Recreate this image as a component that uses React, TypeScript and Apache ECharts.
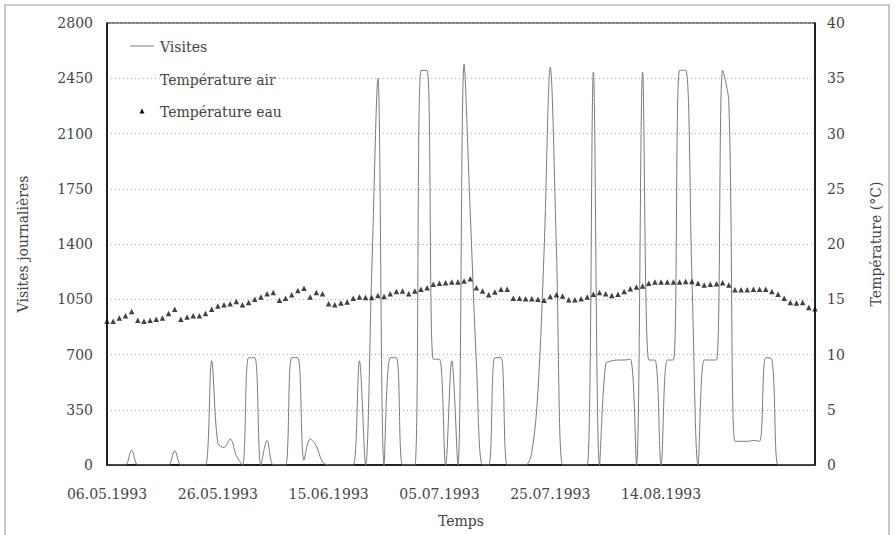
import React, { useEffect, useRef } from "react";
import * as echarts from "echarts";

// Category axis: one entry per observation (labels shown every 18 entries = 20 days)
const startDate = new Date(1993, 4, 6);
const pointCount = 116;
const labelEvery = 18;
const lastLabelIndex = 90;

const pad = (n: number) => (n < 10 ? "0" + n : "" + n);
const categories: string[] = Array.from({ length: pointCount }, (_, i) => {
  const d = new Date(startDate.getTime());
  d.setDate(d.getDate() + Math.round((i * 20) / labelEvery));
  return pad(d.getDate()) + "." + pad(d.getMonth() + 1) + "." + d.getFullYear();
});

// Visites journalières (left axis)
const visites: number[] = [
  0, 0, 0, 0, 95, 0, 0, 0, 0, 0,
  0, 90, 0, 0, 0, 0, 0, 660, 140, 110,
  165, 60, 0, 680, 680, 0, 155, 0, 0, 0,
  680, 680, 30, 165, 120, 20, 0, 0, 0, 0,
  0, 660, 0, 1220, 2450, 0, 680, 680, 0, 0,
  0, 2500, 2500, 670, 670, 0, 660, 0, 2540, 1600,
  650, 0, 0, 680, 680, 0, 0, 0, 0, 80,
  470, 1360, 2520, 1370, 0, 0, 0, 0, 0, 2490,
  0, 640, 660, 665, 665, 670, 0, 2490, 665, 665,
  0, 665, 665, 2500, 2500, 1200, 0, 665, 665, 665,
  2500, 2300, 150, 150, 150, 155, 150, 680, 670, 0,
  0, 0, 0, 0, 0, 0,
];

// Température eau (right axis, °C)
const tempEau: number[] = [
  13.0, 13.0, 13.3, 13.5, 13.9, 13.1, 13.0, 13.1, 13.2, 13.3,
  13.7, 14.1, 13.2, 13.4, 13.5, 13.5, 13.7, 14.1, 14.4, 14.5,
  14.6, 14.8, 14.5, 14.7, 15.0, 15.2, 15.5, 15.6, 14.9, 15.1,
  15.4, 15.8, 16.0, 15.2, 15.6, 15.5, 14.6, 14.5, 14.65, 14.75,
  15.1, 15.2, 15.15, 15.15, 15.35, 15.25, 15.5, 15.7, 15.75, 15.5,
  15.75, 15.9, 16.05, 16.35, 16.45, 16.5, 16.55, 16.55, 16.65, 16.85,
  16.05, 15.75, 15.4, 15.65, 15.9, 15.9, 15.1, 15.1, 15.05, 15.05,
  15.0, 14.9, 15.25, 15.4, 15.3, 14.95, 14.95, 15.05, 15.2, 15.45,
  15.6, 15.5, 15.35, 15.45, 15.7, 15.95, 16.1, 16.2, 16.45, 16.55,
  16.55, 16.55, 16.55, 16.55, 16.6, 16.6, 16.45, 16.3, 16.35, 16.4,
  16.5, 16.3, 15.85, 15.85, 15.85, 15.9, 15.9, 15.9, 15.7, 15.45,
  15.1, 14.7, 14.65, 14.7, 14.25, 14.15,
];

// Température air: not legible in the reference (only its legend entry is visible)
const tempAir: number[] = [];

const seriesNames = ["Visites", "Température air", "Température eau"];

const FONT = "DejaVu Serif";
const TEXT = "#444";
const LINE = "#7a7a7a";

export default function App() {
  const ref = useRef<HTMLDivElement>(null);

  useEffect(() => {
    if (!ref.current) return;
    const chart = echarts.init(ref.current, null, { renderer: "svg" });
    const legendText = (y: number, text: string) => ({
      type: "text",
      left: 160,
      top: y - 6,
      style: { text, fill: TEXT, font: `14px "${FONT}"` },
      silent: true,
    });
    chart.setOption({
      animation: false,
      backgroundColor: "#ffffff",
      textStyle: { fontFamily: FONT, color: TEXT },
      graphic: [
        {
          type: "rect",
          shape: { x: 5, y: 5, width: 884, height: 545 },
          style: { fill: "none", stroke: "#a0a0a0", lineWidth: 1.2 },
          silent: true,
          z: -10,
        },
        {
          type: "line",
          shape: { x1: 130, y1: 46, x2: 154, y2: 46 },
          style: { stroke: LINE, lineWidth: 1 },
          silent: true,
        },
        legendText(46, seriesNames[0]),
        {
          type: "line",
          shape: { x1: 133, y1: 79, x2: 140, y2: 79 },
          style: { stroke: "#cfcfcf", lineWidth: 1, lineDash: [1, 4] },
          silent: true,
        },
        legendText(79, seriesNames[1]),
        {
          type: "polygon",
          shape: { points: [[139.5, 113.5], [144.5, 113.5], [142, 108.5]] },
          style: { fill: "#111" },
          silent: true,
        },
        legendText(111, seriesNames[2]),
      ],
      grid: {
        left: 107,
        right: 80,
        top: 23,
        bottom: 70,
        show: true,
        borderColor: "#000",
        borderWidth: 1,
        backgroundColor: "transparent",
      },
      xAxis: {
        type: "category",
        data: categories,
        boundaryGap: false,
        name: "Temps",
        nameLocation: "middle",
        nameGap: 49,
        nameTextStyle: { fontFamily: FONT, fontSize: 14, color: TEXT },
        axisLine: { lineStyle: { color: "#000", width: 1.5 } },
        axisTick: { show: false },
        splitLine: { show: false },
        axisLabel: {
          interval: (idx: number) => idx % labelEvery === 0 && idx <= lastLabelIndex,
          margin: 22,
          fontFamily: FONT,
          fontSize: 14,
          color: TEXT,
        },
      },
      yAxis: [
        {
          type: "value",
          min: 0,
          max: 2800,
          interval: 350,
          name: "Visites journalières",
          nameLocation: "middle",
          nameRotate: 90,
          nameGap: 77,
          nameTextStyle: { fontFamily: FONT, fontSize: 14, color: TEXT },
          axisLine: { show: true, lineStyle: { color: "#000", width: 1.5 } },
          axisTick: { show: false },
          axisLabel: {
            margin: 14,
            fontFamily: FONT,
            fontSize: 14,
            color: TEXT,
            formatter: (v: number) => String(v),
          },
          splitLine: { show: true, lineStyle: { color: "#b0b0b0", type: [1, 3], width: 1 } },
        },
        {
          type: "value",
          min: 0,
          max: 40,
          interval: 5,
          position: "right",
          name: "Température (°C)",
          nameLocation: "middle",
          nameRotate: 90,
          nameGap: 54,
          nameTextStyle: { fontFamily: FONT, fontSize: 14, color: TEXT },
          axisLine: { show: true, lineStyle: { color: "#000", width: 1.5 } },
          axisTick: { show: false },
          axisLabel: {
            margin: 12,
            fontFamily: FONT,
            fontSize: 14,
            color: TEXT,
            formatter: (v: number) => String(v),
          },
          splitLine: { show: false },
        },
      ],
      series: [
        {
          name: seriesNames[0],
          type: "line",
          yAxisIndex: 0,
          data: visites,
          smooth: 0.35,
          symbol: "none",
          itemStyle: { color: LINE },
          lineStyle: { color: LINE, width: 1 },
          z: 3,
        },
        {
          name: seriesNames[1],
          type: "line",
          yAxisIndex: 1,
          data: tempAir,
          symbol: "none",
          itemStyle: { color: "#c8c8c8" },
          lineStyle: { color: "#c8c8c8", width: 1, type: [1, 4] },
        },
        {
          name: seriesNames[2],
          type: "scatter",
          yAxisIndex: 1,
          data: tempEau,
          symbol: "triangle",
          symbolSize: 5.5,
          itemStyle: { color: "#111" },
          z: 4,
        },
      ],
    });
    return () => chart.dispose();
  }, []);

  return (
    <div
      ref={ref}
      style={{ position: "fixed", left: 0, top: 0, width: 895, height: 535, background: "#fff" }}
    />
  );
}
